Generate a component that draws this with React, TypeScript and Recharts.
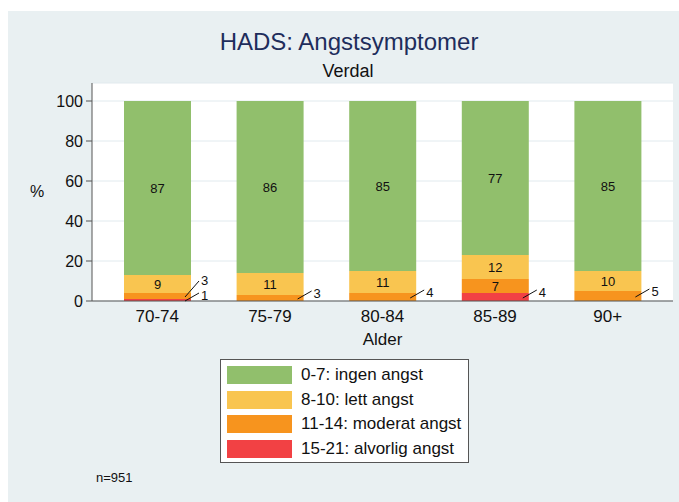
import { BarChart, Bar, XAxis, YAxis, CartesianGrid, LabelList } from 'recharts';

const ageGroups = ['70-74', '75-79', '80-84', '85-89', '90+'];
const ingenAngst = [87, 86, 85, 77, 85];
const lettAngst = [9, 11, 11, 12, 10];
const moderatAngst = [3, 3, 4, 7, 5];
const alvorligAngst = [1, 0, 0, 4, 0];
const yTicks = [0, 20, 40, 60, 80, 100];

const legendItems = [
  { label: '0-7: ingen angst', color: '#91bf6c' },
  { label: '8-10: lett angst', color: '#f9c550' },
  { label: '11-14: moderat angst', color: '#f7941e' },
  { label: '15-21: alvorlig angst', color: '#f24144' },
];

const data = ageGroups.map((alder, i) => ({
  alder,
  alvorlig: alvorligAngst[i],
  moderat: moderatAngst[i],
  lett: lettAngst[i],
  ingen: ingenAngst[i],
}));

const font = '"Liberation Sans", Arial, Helvetica, sans-serif';

// small segments get a label outside the bar with a short leader line
function makeLabel(below?: number[]) {
  return (props: any) => {
    const x = Number(props.x);
    const y = Number(props.y);
    const width = Number(props.width);
    const height = Number(props.height);
    const value = Number(props.value);
    const index = props.index;
    if (!value) return null;
    if (value > 5) {
      return (
        <text x={x + width / 2} y={y + height / 2} textAnchor="middle" dominantBaseline="central"
          fontSize={13} fill="#111" fontFamily={font}>{value}</text>
      );
    }
    const right = x + width;
    const mid = y + height / 2;
    let endY = mid - 7;
    let baseY = endY + 7;
    if (below) {
      const b = below[index];
      if (b > 0 && b <= 5) {
        // another outside label sits below: lift this one clear of it
        const bh = (height * b) / value;
        const belowEnd = y + height + bh / 2 - 7;
        endY = belowEnd - 12;
        baseY = endY + 4;
      }
    }
    return (
      <g>
        <line x1={right - 6} y1={mid + 1} x2={right + 8} y2={endY} stroke="#111" strokeWidth={1} />
        <text x={right + 10} y={baseY} fontSize={13} fill="#111" fontFamily={font}>{value}</text>
      </g>
    );
  };
}

export default function App() {
  return (
    <div style={{ position: 'absolute', left: 0, top: 0, width: 679, height: 502, background: '#fff', fontFamily: font }}>
      <div style={{ position: 'absolute', left: 8, top: 11, width: 671, height: 491, background: '#e9f0f2' }} />
      <div style={{ position: 'absolute', left: 0, top: 0 }}>
        <BarChart width={679} height={502} data={data}
          margin={{ top: 83, right: 6, left: 0, bottom: 161 }}>
          <CartesianGrid vertical={false} stroke="#e1eaee" fill="#fff" />
          <XAxis dataKey="alder" padding={{ left: 9, right: 9 }} tickLine={false} tickSize={6} tickMargin={3}
            height={40} axisLine={{ stroke: '#555' }}
            tick={{ fontSize: 17, fill: '#111', fontFamily: font }} interval={0} />
          <YAxis domain={[0, 100]} ticks={yTicks} width={92} padding={{ top: 18 }}
            tickSize={6} tickMargin={3} axisLine={{ stroke: '#555' }} tickLine={{ stroke: '#555' }}
            tick={{ fontSize: 16, fill: '#111', fontFamily: font }} />
          <Bar dataKey="alvorlig" stackId="a" fill="#f24144" barSize={67} isAnimationActive={false}>
            <LabelList dataKey="alvorlig" content={makeLabel()} />
          </Bar>
          <Bar dataKey="moderat" stackId="a" fill="#f7941e" barSize={67} isAnimationActive={false}>
            <LabelList dataKey="moderat" content={makeLabel(alvorligAngst)} />
          </Bar>
          <Bar dataKey="lett" stackId="a" fill="#f9c550" barSize={67} isAnimationActive={false}>
            <LabelList dataKey="lett" content={makeLabel()} />
          </Bar>
          <Bar dataKey="ingen" stackId="a" fill="#91bf6c" barSize={67} isAnimationActive={false}>
            <LabelList dataKey="ingen" content={makeLabel()} />
          </Bar>
        </BarChart>
      </div>
      <div style={{ position: 'absolute', left: 0, width: 698, top: 28, textAlign: 'center', fontSize: 24, color: '#1e2d5c', lineHeight: '28px' }}>
        HADS: Angstsymptomer
      </div>
      <div style={{ position: 'absolute', left: 0, width: 696, top: 61, textAlign: 'center', fontSize: 18, color: '#111', lineHeight: '20px' }}>
        Verdal
      </div>
      <div style={{ position: 'absolute', left: 30, top: 182, fontSize: 16, color: '#111', lineHeight: '20px' }}>%</div>
      <div style={{ position: 'absolute', left: 92, width: 581, top: 330, textAlign: 'center', fontSize: 17, color: '#111', lineHeight: '20px' }}>
        Alder
      </div>
      <div style={{ position: 'absolute', left: 220, top: 359, width: 247, height: 102, border: '1px solid #555', background: '#fff' }}>
        {legendItems.map((item, i) => (
          <div key={item.label} style={{ position: 'absolute', left: 6, top: 6 + i * 24.5, height: 18, display: 'flex', alignItems: 'center' }}>
            <div style={{ width: 65, height: 18, background: item.color }} />
            <span style={{ marginLeft: 9, fontSize: 17, color: '#111', whiteSpace: 'nowrap' }}>{item.label}</span>
          </div>
        ))}
      </div>
      <div style={{ position: 'absolute', left: 96, top: 470, fontSize: 13, color: '#111', lineHeight: '16px' }}>n=951</div>
    </div>
  );
}
